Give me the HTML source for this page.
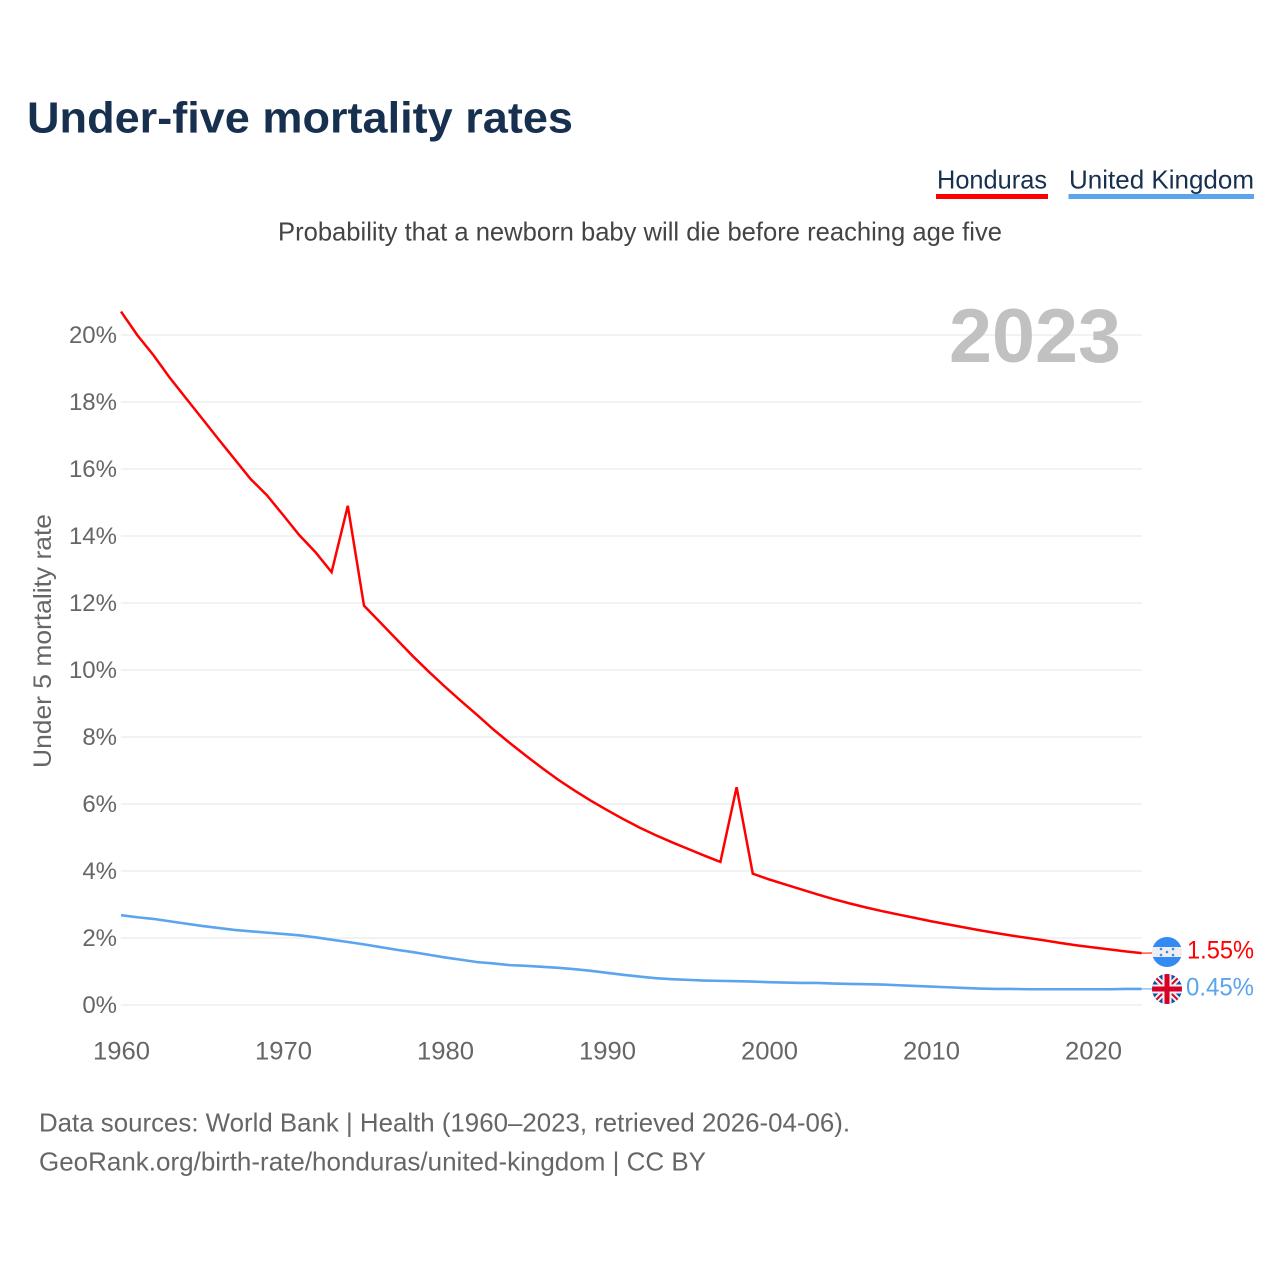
<!DOCTYPE html>
<html lang="en">
<head>
<meta charset="utf-8">
<title>Under-five mortality rates</title>
<style>
html,body{margin:0;padding:0;background:#fff;width:1280px;height:1280px;overflow:hidden}
svg{display:block}
text{font-family:"Liberation Sans",sans-serif}
</style>
</head>
<body>
<svg id="chart" xmlns="http://www.w3.org/2000/svg" width="1280" height="1280" viewBox="0 0 1280 1280">
  <defs>
    <clipPath id="flag-clip-hn"><circle cx="1167" cy="952" r="15"/></clipPath>
    <clipPath id="flag-clip-uk"><circle cx="1167" cy="989" r="15"/></clipPath>
  </defs>
  <rect width="1280" height="1280" fill="#fff"/>
  <text x="27" y="132.5" font-size="44" font-weight="700" fill="#17304f" textLength="546" lengthAdjust="spacingAndGlyphs">Under-five mortality rates</text>

  <g>
    <text x="937" y="188.5" font-size="26" fill="#17304f" textLength="110" lengthAdjust="spacingAndGlyphs">Honduras</text>
    <rect x="936" y="194" width="112" height="5" fill="#ff0000"/>
  </g>
  <g>
    <text x="1069" y="188.5" font-size="26" fill="#17304f" textLength="185" lengthAdjust="spacingAndGlyphs">United Kingdom</text>
    <rect x="1068.5" y="194" width="185.5" height="5" fill="#5ba4ee"/>
  </g>

  <text x="278" y="240.5" font-size="26" fill="#444" textLength="724" lengthAdjust="spacingAndGlyphs">Probability that a newborn baby will die before reaching age five</text>

  <g id="grid"></g>
  <text x="949" y="362" font-size="76" font-weight="700" fill="#c1c1c1" textLength="172" lengthAdjust="spacingAndGlyphs">2023</text>
  <g id="y-ticks"></g>
  <g id="x-ticks"></g>
  <text transform="translate(51,768) rotate(-90)" font-size="25" fill="#666" textLength="254" lengthAdjust="spacingAndGlyphs">Under 5 mortality rate</text>
  <g id="series"></g>

  <g clip-path="url(#flag-clip-hn)">
    <rect x="1152" y="937" width="30" height="30" fill="#eeeeee"/>
    <rect x="1152" y="937" width="30" height="10" fill="#338af3"/>
    <rect x="1152" y="957" width="30" height="10" fill="#338af3"/>
    <circle cx="1167" cy="952" r="1.3" fill="#338af3"/>
    <circle cx="1161" cy="949" r="1.3" fill="#338af3"/>
    <circle cx="1173" cy="949" r="1.3" fill="#338af3"/>
    <circle cx="1161" cy="955" r="1.3" fill="#338af3"/>
    <circle cx="1173" cy="955" r="1.3" fill="#338af3"/>
  </g>
  <g clip-path="url(#flag-clip-uk)">
    <rect x="1152" y="974" width="30" height="30" fill="#0f4fa8"/>
    <path d="M1152 974L1182 1004M1182 974L1152 1004" stroke="#f0f0f0" stroke-width="6"/>
    <path d="M1152 974L1182 1004M1182 974L1152 1004" stroke="#d80027" stroke-width="2"/>
    <path d="M1167 974V1004M1152 989H1182" stroke="#f0f0f0" stroke-width="9"/>
    <path d="M1167 974V1004M1152 989H1182" stroke="#d80027" stroke-width="5"/>
  </g>
  <g id="end-labels"></g>

  <text x="39" y="1131.5" font-size="26" fill="#666" textLength="811" lengthAdjust="spacingAndGlyphs">Data sources: World Bank | Health (1960–2023, retrieved 2026-04-06).</text>
  <text x="39" y="1170.5" font-size="26" fill="#666" textLength="667" lengthAdjust="spacingAndGlyphs">GeoRank.org/birth-rate/honduras/united-kingdom | CC BY</text>
</svg>
<script>
const startYear = 1960;
const yTicks = [0, 2, 4, 6, 8, 10, 12, 14, 16, 18, 20];
const xTicks = [1960, 1970, 1980, 1990, 2000, 2010, 2020];
const honduras = [20.7, 20.0, 19.4, 18.73, 18.12, 17.51, 16.9, 16.3, 15.7, 15.22,
  14.63, 14.03, 13.52, 12.92, 14.9, 11.92, 11.42, 10.92, 10.42, 9.95,
  9.5, 9.07, 8.65, 8.22, 7.82, 7.44, 7.07, 6.72, 6.4, 6.1,
  5.82, 5.55, 5.3, 5.07, 4.86, 4.66, 4.46, 4.27, 6.5, 3.92,
  3.75, 3.6, 3.45, 3.3, 3.16, 3.03, 2.91, 2.8, 2.7, 2.6,
  2.5, 2.41, 2.32, 2.23, 2.15, 2.07, 2.0, 1.93, 1.85, 1.78,
  1.72, 1.66, 1.6, 1.55];
const unitedKingdom = [2.68, 2.62, 2.57, 2.5, 2.43, 2.36, 2.3, 2.24, 2.2, 2.16,
  2.12, 2.08, 2.02, 1.95, 1.88, 1.81, 1.73, 1.65, 1.58, 1.5,
  1.42, 1.35, 1.28, 1.24, 1.19, 1.17, 1.14, 1.11, 1.07, 1.02,
  0.96, 0.9, 0.85, 0.8, 0.77, 0.75, 0.73, 0.72, 0.71, 0.7,
  0.68, 0.67, 0.66, 0.66, 0.64, 0.63, 0.62, 0.61, 0.59, 0.57,
  0.55, 0.53, 0.51, 0.49, 0.48, 0.48, 0.47, 0.47, 0.47, 0.47,
  0.47, 0.47, 0.48, 0.48];
const hondurasLabel = "1.55%";
const unitedKingdomLabel = "0.45%";

const NS = "http://www.w3.org/2000/svg";
function xScale(year) { return 121 + (year - 1960) * 16.2; }
function yScale(v) { return 1005 - v * 33.5; }
function make(tag, attrs, text) {
  const el = document.createElementNS(NS, tag);
  for (const k in attrs) el.setAttribute(k, attrs[k]);
  if (text !== undefined) el.textContent = text;
  return el;
}

const gridG = document.getElementById("grid");
const yG = document.getElementById("y-ticks");
yTicks.forEach(function (t) {
  const line = make("line", { x1: 121, x2: 1142, y1: yScale(t), y2: yScale(t), stroke: "#eeeeee", "stroke-width": 1.6 });
  
  
  gridG.appendChild(line);
  const label = make("text", { x: 117, y: yScale(t) + 8, "text-anchor": "end", "font-size": 24, fill: "#666" }, t + "%");
  
  
  yG.appendChild(label);
});

const xG = document.getElementById("x-ticks");
xTicks.forEach(function (t) {
  const label = make("text", { x: xScale(t) - 28, y: 1059.5, "font-size": 25, fill: "#666", textLength: 57, lengthAdjust: "spacingAndGlyphs" }, String(t));
  
  
  xG.appendChild(label);
});

function points(values) {
  return values.map(function (v, i) { return xScale(startYear + i).toFixed(2) + "," + yScale(v).toFixed(2); }).join(" ");
}
const seriesG = document.getElementById("series");

const ukLine = make("polyline", { points: points(unitedKingdom), fill: "none", stroke: "#5ba4ee", "stroke-width": 2.6, "stroke-linejoin": "miter" });


seriesG.appendChild(ukLine);

const hnLine = make("polyline", { points: points(honduras), fill: "none", stroke: "#ff0000", "stroke-width": 2.5, "stroke-linejoin": "miter" });


seriesG.appendChild(hnLine);

const lastYear = startYear + honduras.length - 1;
const endG = document.getElementById("end-labels");

const hnConnector = make("line", { x1: xScale(lastYear), x2: 1152, y1: yScale(honduras[honduras.length - 1]), y2: 953, stroke: "#ff0000", "stroke-width": 1 });


endG.appendChild(hnConnector);

const ukConnector = make("line", { x1: xScale(lastYear), x2: 1152, y1: yScale(unitedKingdom[unitedKingdom.length - 1]), y2: 989, stroke: "#5ba4ee", "stroke-width": 1 });


endG.appendChild(ukConnector);

const hnEnd = make("text", { x: 1187, y: 958.5, "font-size": 25, fill: "#ff0000", textLength: 67, lengthAdjust: "spacingAndGlyphs" }, hondurasLabel);


endG.appendChild(hnEnd);

const ukEnd = make("text", { x: 1186, y: 995.5, "font-size": 25, fill: "#5ba4ee", textLength: 68, lengthAdjust: "spacingAndGlyphs" }, unitedKingdomLabel);


endG.appendChild(ukEnd);
</script>
</body>
</html>
